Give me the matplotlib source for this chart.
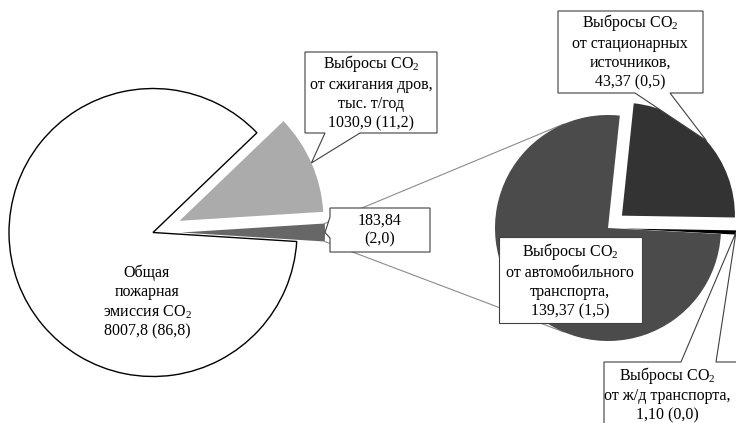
import numpy as np
import matplotlib
matplotlib.use("Agg")
import matplotlib.pyplot as plt
from matplotlib.patches import Polygon

plt.rcParams['font.family'] = 'serif'
plt.rcParams['font.serif'] = ['Liberation Serif', 'Times New Roman', 'DejaVu Serif']
plt.rcParams['mathtext.fontset'] = 'custom'
plt.rcParams['mathtext.rm'] = 'Liberation Serif'
plt.rcParams['mathtext.it'] = 'Liberation Serif:italic'

# main pie: other (goes to the second pie), wood burning, total fire emission
main_values = [183.84, 1030.9, 8007.8]
main_shares = [2.0, 11.2, 86.8]
main_colors = ['#676767', '#ababab', 'white']

# second pie: stationary sources, railway, road transport
sub_values = [43.37, 1.10, 139.37]
sub_shares = [0.5, 0.0, 1.5]
sub_colors = ['#333333', '#000000', '#4b4b4b']


def num(v, d):
    return f"{v:.{d}f}".replace('.', ',')


CO2 = "Выбросы CO$_2$"

W, H = 736, 423
fig = plt.figure(figsize=(W / 100, H / 100), dpi=100)
ax = fig.add_axes([0, 0, 1, 1])

# main pie, "other" slice centred on the 0 deg direction
start = -180 * main_values[0] / sum(main_values)
wm, _ = ax.pie(main_values, colors=main_colors, radius=144, center=(153, H - 232.5),
               startangle=start, counterclock=True, explode=[28, 29, 0],
               wedgeprops=dict(linewidth=0), frame=True)
wm[2].set_edgecolor('black')
wm[2].set_linewidth(1.0)

# second pie
ws, _ = ax.pie(sub_values, colors=sub_colors, radius=113, center=(608, H - 228),
               startangle=84, counterclock=False, explode=[18.6, 15, 0],
               wedgeprops=dict(linewidth=0), frame=True)


def arc_point(w, ang=None):
    if ang is None:
        ang = (w.theta1 + w.theta2) / 2
    a = np.deg2rad(ang)
    return (w.center[0] + w.r * np.cos(a), w.center[1] + w.r * np.sin(a))


# connector lines between the pies
wo = wm[0]
wa = ws[2]
for a_main, a_sub in [(wo.theta2, 113), (wo.theta1, 247)]:
    p0 = arc_point(wo, a_main)
    p1 = arc_point(wa, a_sub)
    ax.plot([p0[0], p1[0]], [p0[1], p1[1]], color='#8c8c8c', lw=0.8, zorder=0.5)


def callout(box, tip=None, side=None, base=None):
    x0, y0, x1, y1 = box  # left, bottom, right, top
    if side == 'bottom':
        pts = [(x0, y1), (x0, y0), (base[0], y0), tip, (base[1], y0), (x1, y0), (x1, y1)]
    elif side == 'left':
        pts = [(x0, y1), (x0, base[0]), tip, (x0, base[1]), (x0, y0), (x1, y0), (x1, y1)]
    elif side == 'top':
        pts = [(x0, y1), (x0, y0), (x1, y0), (x1, y1), (base[1], y1), tip, (base[0], y1)]
    else:
        pts = [(x0, y1), (x0, y0), (x1, y0), (x1, y1)]
    ax.add_patch(Polygon(pts, closed=True, facecolor='white', edgecolor='#404040',
                         lw=0.8, zorder=3))


fs = 11.5
txt = dict(ha='center', va='center', fontsize=fs, zorder=4, linespacing=1.25)

# wood burning
callout((305, H - 133, 437, H - 52), arc_point(wm[1]), 'bottom', (325, 360))
ax.text(371, H - 92, CO2 + "\nот сжигания дров,\nтыс. т/год\n"
        + f"{num(main_values[1], 1)} ({num(main_shares[1], 1)})", **txt)

# other
callout((330, H - 252, 430, H - 208), arc_point(wm[0]), 'left', (H - 217, H - 238))
ax.text(380, H - 230, f"{num(main_values[0], 2)}\n({num(main_shares[0], 1)})", **txt)

# total
ax.text(147, H - 302, "Общая\nпожарная\nэмиссия CO$_2$\n"
        + f"{num(main_values[2], 1)} ({num(main_shares[2], 1)})", **txt)

# stationary
callout((558, H - 93, 703, H - 11), arc_point(ws[0]), 'bottom', (635, 670))
ax.text(630, H - 51, CO2 + "\nот стационарных\nисточников,\n"
        + f"{num(sub_values[0], 2)} ({num(sub_shares[0], 1)})", **txt)

# road transport
callout((499, H - 323, 642, H - 237))
ax.text(570, H - 280, CO2 + "\nот автомобильного\nтранспорта,\n"
        + f"{num(sub_values[2], 2)} ({num(sub_shares[2], 1)})", **txt)

# railway
callout((604, -20, 760, H - 362), arc_point(ws[1]), 'top', (681, 716))
ax.text(667, H - 394, CO2 + "\nот ж/д транспорта,\n"
        + f"{num(sub_values[1], 2)} ({num(sub_shares[1], 1)})", **txt)

ax.set_xlim(0, W)
ax.set_ylim(0, H)
ax.set_aspect('equal')
ax.axis('off')

fig.savefig('out.png', dpi=100)
